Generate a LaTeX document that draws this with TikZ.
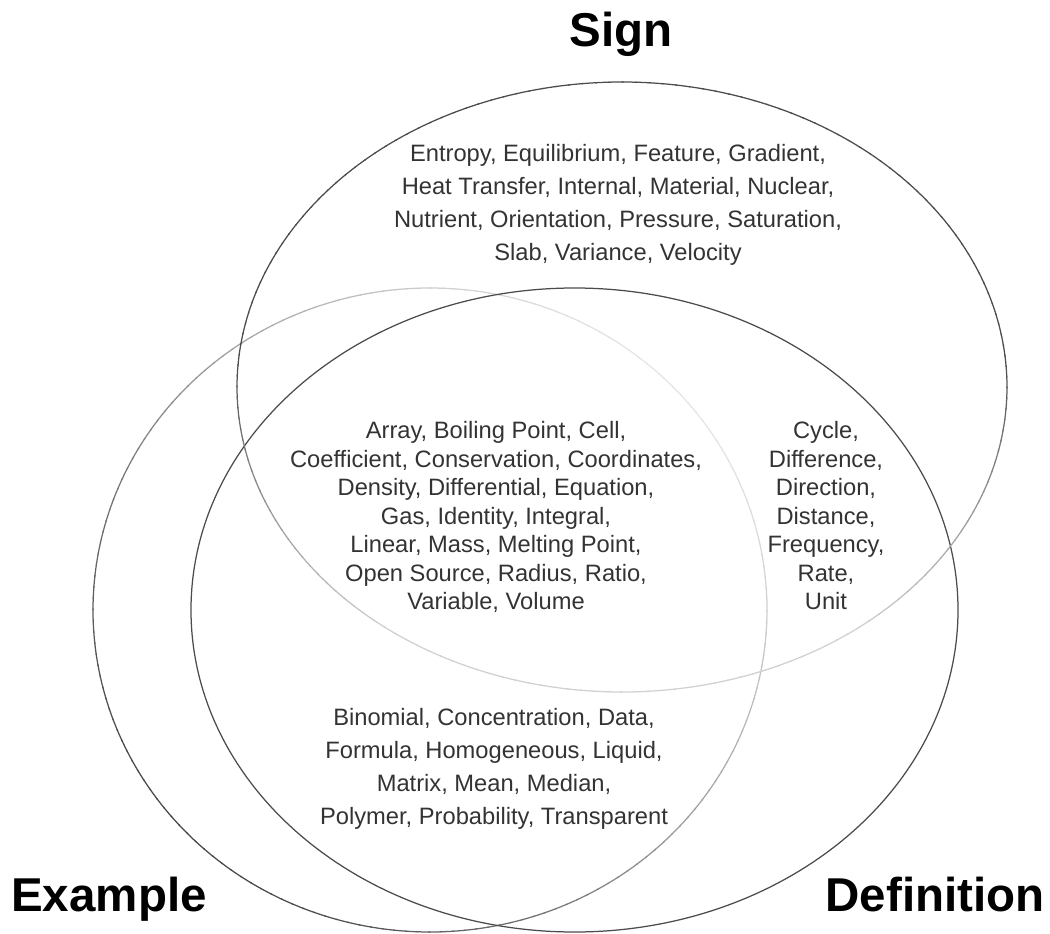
\documentclass[tikz,border=0pt]{standalone}
\usepackage{fontspec}
\setmainfont{Liberation Sans}
\definecolor{txt}{HTML}{333333}
\begin{document}
\begin{tikzpicture}[x=1pt,y=-1pt,
  body/.style={text=txt, align=center, font=\fontsize{23.7}{33}\selectfont, inner sep=0pt},
  tight/.style={text=txt, align=center, font=\fontsize{23.7}{28.5}\selectfont, inner sep=0pt},
  title/.style={font=\fontsize{47.5}{50}\selectfont\bfseries, inner sep=0pt, anchor=base},
  ring/.style={line width=1.25pt, line cap=round}]
\useasboundingbox (0,0) rectangle (1050,934);
\coordinate (S) at (622,387);
\coordinate (E) at (430,610);
\coordinate (D) at (574.5,610);
% Example ellipse: dark at the lower left, light at the upper right
\foreach \a in {0,2,...,358}{
  \pgfmathsetmacro\u{max(0,min(1,(337*cos(\a+1)-322*sin(\a+1)+466)/932))}
  \pgfmathsetmacro\m{72-62*\u}
  \draw[ring, black!\m] (E) ++(\a:337 and 322) arc[start angle=\a, delta angle=2.2, x radius=337, y radius=322];
}
% Definition ellipse
\draw[ring, black!70] (D) ellipse[x radius=383.5, y radius=322];
% Sign ellipse: dark on top, light at the bottom
\foreach \a in {0,2,...,358}{
  \pgfmathsetmacro\t{max(0,min(1,((1+sin(\a+1))/2-0.45)/0.45))}
  \pgfmathsetmacro\m{70-52*\t}
  \draw[ring, black!\m] (S) ++(\a:385 and 305) arc[start angle=\a, delta angle=2.2, x radius=385, y radius=305];
}
\node[title] (sign) at (621,47) {Sign};
\node[title] (example) at (109,911) {Example};
\node[title] (definition) at (935,911) {Definition};
\node[body] (signonly) at (618,205) {Entropy, Equilibrium, Feature, Gradient,\\Heat Transfer, Internal, Material, Nuclear,\\Nutrient, Orientation, Pressure, Saturation,\\Slab, Variance, Velocity};
\node[tight] (all) at (496,517) {Array, Boiling Point, Cell,\\Coefficient, Conservation, Coordinates,\\Density, Differential, Equation,\\Gas, Identity, Integral,\\Linear, Mass, Melting Point,\\Open Source, Radius, Ratio,\\Variable, Volume};
\node[tight] (signdef) at (826,516) {Cycle,\\Difference,\\Direction,\\Distance,\\Frequency,\\Rate,\\Unit};
\node[body] (exdef) at (494,769) {Binomial, Concentration, Data,\\Formula, Homogeneous, Liquid,\\Matrix, Mean, Median,\\Polymer, Probability, Transparent};
\end{tikzpicture}
\end{document}
